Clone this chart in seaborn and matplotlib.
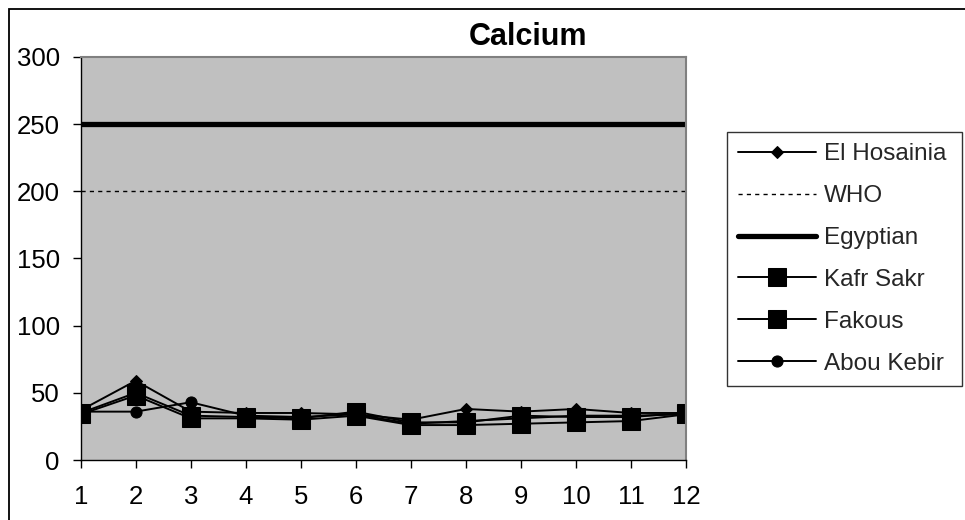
import matplotlib
matplotlib.use("Agg")
import matplotlib.pyplot as plt
import seaborn as sns
import pandas as pd

months = list(range(1, 13))
el_hosainia = [37, 59, 36, 35, 35, 34, 30, 38, 36, 38, 35, 35]
who = [200] * 12
egyptian = [250] * 12
kafr_sakr = [35, 50, 33, 32, 31, 36, 28, 28, 33, 32, 32, 35]
fakous = [34, 48, 31, 31, 30, 33, 26, 26, 27, 28, 29, 34]
abou_kebir = [36, 36, 43, 33, 32, 34, 27, 29, 31, 33, 33, 34]
y_ticks = [0, 50, 100, 150, 200, 250, 300]

sns.set_theme(style="white")
plt.rcParams['font.family'] = ['Liberation Sans', 'DejaVu Sans']

W, H = 965, 520
fig = plt.figure(figsize=(9.65, 5.2), dpi=100)
ax = fig.add_axes([80.7/W, 1-460/H, (686-80.7)/W, (460-57)/H])
ax.set_facecolor("#C0C0C0")

series = [
    ("El Hosainia", el_hosainia, dict(marker="D", markersize=6, linewidth=1.4, linestyle="-")),
    ("WHO", who, dict(marker=None, linewidth=1.0, linestyle=(0, (3, 3)))),
    ("Egyptian", egyptian, dict(marker=None, linewidth=3.8, linestyle="-")),
    ("Kafr Sakr", kafr_sakr, dict(marker="s", markersize=13, linewidth=1.4, linestyle="-")),
    ("Fakous", fakous, dict(marker="s", markersize=13, linewidth=1.4, linestyle="-")),
    ("Abou Kebir", abou_kebir, dict(marker="o", markersize=8, linewidth=1.4, linestyle="-")),
]
for name, vals, kw in series:
    df = pd.DataFrame({"x": months, "y": vals})
    sns.lineplot(data=df, x="x", y="y", ax=ax, color="black", label=name,
                 markeredgecolor="black", markerfacecolor="black", **kw)

ax.set_xlim(1, 12)
ax.set_ylim(0, 300)
ax.set_xticks(months)
ax.set_xticklabels([str(m) for m in months])
ax.set_yticks(y_ticks)
ax.set_xlabel("")
ax.set_ylabel("")
ax.tick_params(axis="both", which="both", direction="out", length=6, width=1,
               color="black", labelsize=18.5, labelcolor="black", left=True, bottom=True)
ax.tick_params(axis="x", pad=12)
ax.tick_params(axis="y", pad=9)
for s in ["left", "bottom"]:
    ax.spines[s].set_color("black")
    ax.spines[s].set_linewidth(1)
for s in ["top", "right"]:
    ax.spines[s].set_color("#808080")
    ax.spines[s].set_linewidth(1.5)

fig.text(528/W, 1-37/H, "Calcium", ha="center", va="center",
         fontsize=22, fontweight="bold", color="black")

leg = ax.legend(loc="center", bbox_to_anchor=(727/W, 1-385/H, (962-727)/W, (385-133)/H),
                bbox_transform=fig.transFigure, mode="expand", frameon=True, fancybox=False,
                fontsize=17.5, handlelength=3.2, labelspacing=0.82, borderpad=0.45,
                handletextpad=0.35, borderaxespad=0)
leg.get_frame().set_edgecolor("black")
leg.get_frame().set_linewidth(1)
leg.get_frame().set_facecolor("white")

border = plt.Rectangle((9/W, -0.1), 1.2, 1 + 0.1 - 9/H, transform=fig.transFigure,
                       fill=False, edgecolor="black", linewidth=1.3, clip_on=False)
fig.patches.append(border)

fig.savefig("out.png", dpi=100, facecolor="white")
